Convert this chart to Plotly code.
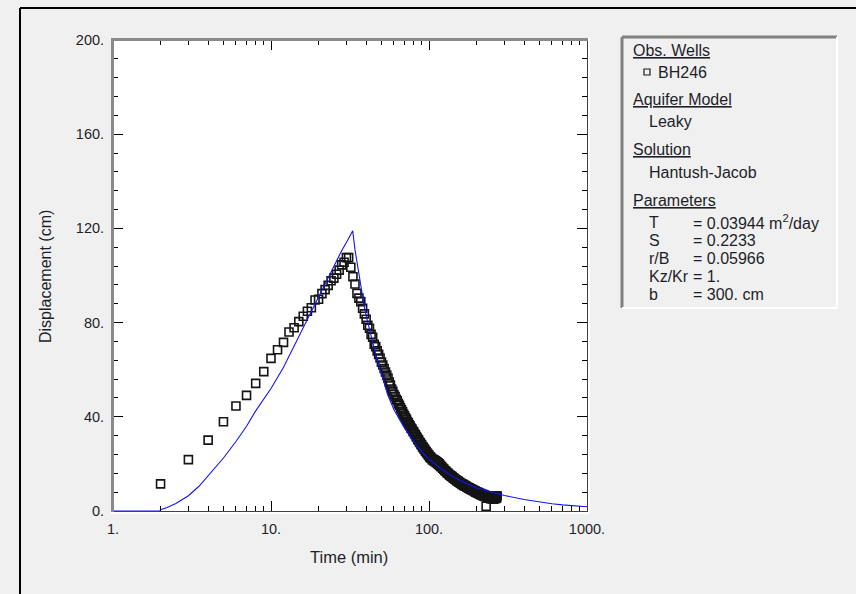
import plotly.graph_objects as go

# ---------------- data ----------------
obs_time = [2, 3, 4, 5, 6, 7, 8, 9, 10, 11, 12, 13, 14, 15, 16, 17, 18, 19, 20, 21,
            22, 23, 24, 25, 26, 27, 28, 29, 30, 31,
            32, 33, 34, 35, 36, 37, 38, 39, 40, 41, 42, 43, 44, 45, 46, 47, 48, 49, 50,
            51, 52, 53, 54, 55, 56, 57, 58, 59, 60,
            61, 62, 63, 64, 65, 66, 67, 68, 69, 70, 71, 72, 73, 74, 75, 76, 77, 78, 79, 80,
            81, 82, 83, 84, 85, 86, 87, 88, 89, 90, 91, 92, 93, 94, 95, 96, 97, 98, 99, 100,
            101, 102, 103, 104, 105, 106, 107, 108, 109, 110, 111, 112, 113, 114, 115, 116,
            117, 118, 119, 120,
            122, 124, 126, 128, 130, 132, 134, 136, 138, 140, 142, 144, 146, 148, 150, 152,
            154, 156, 158, 160, 162, 164, 166, 168, 170, 172, 174, 176, 178, 180, 182, 184,
            186, 188, 190, 192, 194, 196, 198, 200, 202, 204, 206, 208, 210, 212, 214, 216,
            218, 220, 222, 224, 226, 228, 230, 232, 234, 236, 238, 240, 242, 244, 246, 248,
            250, 252, 254, 256, 258, 260, 262, 264, 266, 268, 270]
obs_disp = [11.5, 21.8, 30.1, 37.9, 44.6, 49.1, 54.2, 59.2, 64.8, 68.5, 71.6, 76.0, 77.8,
            80.4, 82.7, 84.8, 86.3, 89.6, 89.9, 92.3,
            94.0, 95.8, 97.8, 98.9, 100.5, 102.3, 104.5, 105.6, 107.6, 107.6,
            103.5, 99.5, 96.4, 92.4, 90.4, 88.9, 86.1, 83.7, 81.4, 78.9, 77.6, 75.0, 73.8,
            70.8, 69.8, 68.0, 66.5, 65.0, 63.2,
            62.0, 60.5, 59.0, 57.7, 56.5, 54.8, 53.5, 51.8, 50.8, 49.5,
            48.6, 47.4, 46.8, 45.6, 44.9, 43.8, 43.0, 42.1, 41.2, 40.4,
            39.6, 38.9, 38.0, 37.5, 36.6, 36.1, 35.2, 34.8, 34.0, 33.6,
            32.8, 32.4, 31.6, 31.2, 30.4, 30.1, 29.3, 29.0, 28.3, 28.0,
            27.2, 27.0, 26.4, 26.1, 25.4, 25.2, 24.6, 24.4, 23.8, 23.6,
            23.0, 22.9, 22.4, 22.3, 21.8, 21.9, 21.4, 21.6, 21.0, 21.3,
            20.6, 20.9, 20.2, 20.5, 19.8, 20.0, 19.3, 19.4, 18.8, 18.9,
            18.2, 17.8, 17.2, 16.9, 16.3, 16.0, 15.5, 15.2, 14.8, 14.6,
            14.1, 13.9, 13.5, 13.3, 12.9, 12.8, 12.3, 12.2, 11.8, 11.7,
            11.3, 11.3, 10.9, 10.9, 10.5, 10.5, 10.1, 10.1, 9.7, 9.8,
            9.4, 9.4, 9.0, 9.1, 8.7, 8.8, 8.3, 8.5, 8.0, 8.2,
            7.7, 7.9, 7.4, 7.6, 7.1, 7.4, 6.8, 7.2, 6.6, 7.0,
            6.4, 6.8, 6.2, 6.6, 2.0, 6.0, 6.4, 5.6, 6.3, 5.4,
            6.2, 5.3, 6.1, 5.2, 6.3, 5.2, 6.2, 5.0, 6.3, 5.2,
            6.4, 5.3, 6.5, 5.5, 6.4]

model_time = [1.0, 1.98, 2.0, 2.2, 2.5, 3.0, 3.5, 4.0, 4.5, 5.0, 6.0, 7.0, 8.0, 9.0, 10.0,
              12.0, 14.0, 16.0, 18.0, 20.0, 22.0, 25.0, 28.0, 30.0, 32.9,
              34.0, 35.0, 36.0, 37.0, 38.0, 39.0, 40.0, 42.0, 44.0, 46.0, 48.0, 50.0, 55.0,
              60.0, 65.0, 70.0, 80.0, 90.0, 100.0, 120.0, 140.0, 160.0, 200.0, 250.0, 300.0,
              400.0, 500.0, 600.0, 700.0, 800.0, 1000.0]
model_disp = [0.0, 0.0, 0.5, 1.5, 3.2, 6.5, 10.5, 15.0, 18.8, 22.5, 29.5, 36.0, 42.5, 47.5, 52.0,
              61.0, 70.0, 78.0, 85.0, 91.0, 96.5, 103.5, 110.5, 114.0, 119.0,
              111.0, 105.5, 100.0, 95.0, 90.5, 86.5, 83.0, 77.0, 71.5, 66.5, 62.0, 58.0, 49.0,
              43.0, 39.0, 35.3, 29.5, 25.2, 22.0, 17.8, 14.8, 12.7, 9.8, 7.9, 6.6,
              4.9, 3.8, 3.1, 2.6, 2.2, 1.8]

x_major = [1, 10, 100, 1000]
x_major_text = ["1.", "10.", "100.", "1000."]
x_minor = [2, 3, 4, 5, 6, 7, 8, 9, 20, 30, 40, 50, 60, 70, 80, 90,
           200, 300, 400, 500, 600, 700, 800, 900]
y_major = [0, 40, 80, 120, 160, 200]
y_major_text = ["0.", "40.", "80.", "120.", "160.", "200."]

legend_rows = [
    ("Obs. Wells", "head"),
    ("BH246", "well"),
    ("Aquifer Model", "head"),
    ("Leaky", "item"),
    ("Solution", "head"),
    ("Hantush-Jacob", "item"),
    ("Parameters", "head"),
]
param_names = ["T", "S", "r/B", "Kz/Kr", "b"]
param_values = ["= 0.03944 m<sup>2</sup>/day", "= 0.2233", "= 0.05966", "= 1.", "= 300. cm"]

# ---------------- geometry helpers ----------------
W, H = 856, 594
L, R, T, B = 113, 587, 40, 511
FONT = "Liberation Sans, Arial, sans-serif"


def px(xp):
    return (xp - L) / (R - L)


def py(yp):
    return (B - yp) / (B - T)


fig = go.Figure()
fig.add_trace(go.Scatter(
    x=obs_time, y=obs_disp, mode="markers", name="BH246",
    marker=dict(symbol="square-open", size=8, color="#151515", line=dict(width=1.6, color="#151515")),
))
fig.add_trace(go.Scatter(
    x=model_time, y=model_disp, mode="lines", name="Hantush-Jacob",
    line=dict(color="#1414ff", width=1.1),
))

axis_common = dict(
    showgrid=False, zeroline=False, showline=True, linecolor="#404040", linewidth=1,
    mirror="ticks", ticks="inside", tickcolor="#000000", ticklen=10, tickwidth=1,
    tickfont=dict(family=FONT, size=14.5, color="#1e1e2a"),
    ticklabelstandoff=5,
)
fig.update_xaxes(type="log", range=[0, 3], tickmode="array", tickvals=x_major,
                 ticktext=x_major_text,
                 minor=dict(tickmode="array", tickvals=x_minor, ticks="inside", ticklen=5,
                            tickcolor="#000000", tickwidth=1),
                 **axis_common)
fig.update_yaxes(range=[0, 200], tickmode="array", tickvals=y_major, ticktext=y_major_text,
                 minor=dict(tick0=0, dtick=8, ticks="inside", ticklen=5,
                            tickcolor="#000000", tickwidth=1),
                 **axis_common)

shapes = []
# outer black frame
shapes.append(dict(type="line", xref="paper", yref="paper", x0=px(20), x1=px(870), y0=py(8), y1=py(8),
                   line=dict(color="#000000", width=2)))
shapes.append(dict(type="line", xref="paper", yref="paper", x0=px(20), x1=px(20), y0=py(8), y1=py(600),
                   line=dict(color="#000000", width=2)))
# sunken plot frame (gray left/top)
shapes.append(dict(type="line", xref="paper", yref="paper", x0=px(112.5), x1=px(112.5), y0=py(38), y1=py(512),
                   line=dict(color="#8a8a8a", width=3)))
shapes.append(dict(type="line", xref="paper", yref="paper", x0=px(111), x1=px(588), y0=py(39.5), y1=py(39.5),
                   line=dict(color="#8a8a8a", width=3)))
shapes.append(dict(type="line", xref="paper", yref="paper", x0=px(111), x1=px(589), y0=py(513), y1=py(513),
                   line=dict(color="#ffffff", width=2)))
shapes.append(dict(type="line", xref="paper", yref="paper", x0=px(589), x1=px(589), y0=py(38), y1=py(513),
                   line=dict(color="#ffffff", width=2)))

# legend panel
LB_L, LB_R, LB_T, LB_B = 622, 837, 37, 308
shapes.append(dict(type="line", xref="paper", yref="paper", x0=px(LB_L), x1=px(LB_L), y0=py(LB_T), y1=py(LB_B),
                   line=dict(color="#808080", width=3)))
shapes.append(dict(type="line", xref="paper", yref="paper", x0=px(LB_L), x1=px(LB_R), y0=py(LB_T), y1=py(LB_T),
                   line=dict(color="#808080", width=3)))
shapes.append(dict(type="line", xref="paper", yref="paper", x0=px(LB_R), x1=px(LB_R), y0=py(LB_T), y1=py(LB_B),
                   line=dict(color="#ffffff", width=2)))
shapes.append(dict(type="line", xref="paper", yref="paper", x0=px(LB_L), x1=px(LB_R), y0=py(LB_B), y1=py(LB_B),
                   line=dict(color="#ffffff", width=2)))
# legend marker square
shapes.append(dict(type="rect", xref="paper", yref="paper", x0=px(644), x1=px(650), y0=py(69), y1=py(75),
                   line=dict(color="#1a1a1a", width=1.2), fillcolor="rgba(0,0,0,0)"))

annotations = []
TXT = dict(family=FONT, size=16, color="#1e1e2a")
row_y = [50, 72, 100, 122, 150, 172, 200]
for (label, kind), yy in zip(legend_rows, row_y):
    if kind == "head":
        text, xx = "<u>" + label + "</u>", 631
    elif kind == "well":
        text, xx = label, 656
    else:
        text, xx = label, 647
    annotations.append(dict(text=text, x=px(xx), y=py(yy), xref="paper", yref="paper",
                            xanchor="left", yanchor="middle", showarrow=False, font=TXT))
param_y = [222, 240, 258, 276, 294]
for name, val, yy in zip(param_names, param_values, param_y):
    annotations.append(dict(text=name, x=px(647), y=py(yy), xref="paper", yref="paper",
                            xanchor="left", yanchor="middle", showarrow=False, font=TXT))
    annotations.append(dict(text=val, x=px(691), y=py(yy),
                            xref="paper", yref="paper", xanchor="left", yanchor="middle",
                            showarrow=False, font=TXT))
# axis titles
annotations.append(dict(text="Time (min)", x=px(349), y=py(557), xref="paper", yref="paper",
                        xanchor="center", yanchor="middle", showarrow=False,
                        font=dict(family=FONT, size=16.5, color="#1e1e2a")))
annotations.append(dict(text="Displacement (cm)", x=px(45), y=py(277), xref="paper", yref="paper",
                        xanchor="center", yanchor="middle", showarrow=False, textangle=-90, font=TXT))

fig.update_layout(
    width=W, height=H,
    margin=dict(l=L, r=W - R, t=T, b=H - B, autoexpand=False),
    paper_bgcolor="#f0f0f0", plot_bgcolor="#ffffff",
    showlegend=False, shapes=shapes, annotations=annotations,
)

fig.write_html(
    "out.html",
    config={"displayModeBar": False},
    post_script="document.body.style.margin='0';document.body.style.padding='0';"
                "document.body.style.background='#f0f0f0';document.body.style.overflow='hidden';",
)
